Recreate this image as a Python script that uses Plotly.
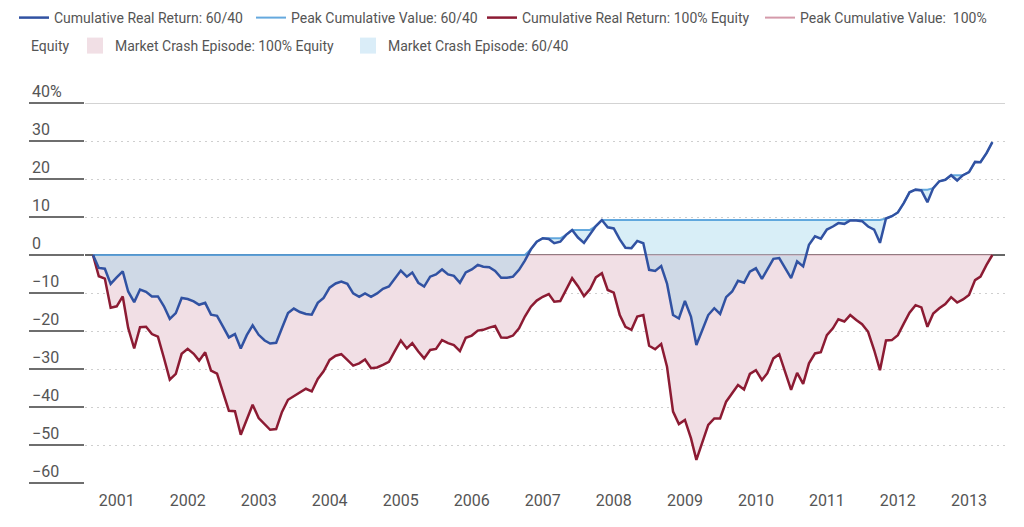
import numpy as np
import pandas as pd
import plotly.graph_objects as go

# ---------------- data ----------------
start_month = "2000-09-01"          # first monthly observation
n_months = 153                      # Sep 2000 .. May 2013

ret_6040 = [
    0.0, -3.4, -3.6, -7.6, -5.9, -4.3, -9.6, -12.4, -9.1, -9.7,
    -10.9, -10.9, -13.5, -16.8, -15.3, -11.3, -11.6, -12.2, -13.1, -12.6,
    -15.7, -16.0, -18.8, -21.7, -20.8, -24.6, -21.1, -18.5, -21.0, -22.5,
    -23.3, -23.1, -19.2, -15.3, -14.1, -15.0, -15.5, -15.7, -12.6, -11.3,
    -8.6, -7.5, -7.0, -7.6, -10.1, -11.0, -10.1, -11.0, -10.1, -8.9,
    -8.3, -6.3, -4.1, -5.7, -4.6, -7.3, -8.3, -5.7, -5.1, -3.8,
    -5.1, -5.5, -7.3, -4.6, -3.8, -2.6, -3.1, -3.2, -4.2, -6.0,
    -6.0, -5.7, -3.9, -1.5, 1.5, 3.5, 4.4, 4.2, 3.1, 3.5,
    5.3, 6.6, 4.6, 3.2, 5.3, 7.6, 9.2, 7.3, 7.0, 4.1,
    1.9, 1.8, 3.7, 3.1, -3.9, -4.2, -2.9, -7.5, -15.8, -16.7,
    -12.1, -16.2, -23.7, -19.7, -15.8, -14.0, -15.5, -11.1, -9.6, -6.8,
    -7.3, -4.4, -3.5, -6.3, -3.9, -1.0, -0.8, -3.4, -6.1, -1.7,
    -3.0, 2.7, 4.9, 4.3, 6.7, 7.5, 8.4, 8.2, 9.1, 9.1,
    8.9, 7.5, 6.7, 3.2, 9.6, 10.2, 11.2, 13.7, 16.5, 17.2,
    17.0, 13.9, 17.6, 19.4, 19.8, 21.0, 19.6, 21.0, 21.8, 24.5,
    24.4, 26.8, 29.7,
]

ret_equity = [
    0.0, -5.6, -6.2, -13.9, -13.5, -10.9, -19.2, -24.6, -19.0, -18.9,
    -20.8, -21.5, -27.1, -32.8, -31.3, -26.0, -24.7, -26.0, -27.8, -25.6,
    -30.4, -31.2, -36.0, -41.0, -41.1, -47.3, -43.3, -39.4, -42.9, -44.6,
    -46.0, -45.8, -41.3, -38.1, -37.2, -36.3, -35.2, -35.9, -32.6, -30.6,
    -27.6, -26.5, -26.1, -27.6, -29.1, -28.5, -27.5, -29.8, -29.6, -28.9,
    -28.1, -25.3, -22.5, -24.6, -23.2, -25.4, -27.2, -25.0, -24.7, -22.4,
    -23.2, -23.7, -25.3, -21.8, -21.2, -19.9, -19.7, -19.1, -18.7, -21.7,
    -21.8, -21.2, -19.3, -16.2, -13.6, -12.0, -11.0, -10.3, -12.3, -12.1,
    -9.0, -6.1, -8.2, -10.8, -9.0, -5.9, -4.8, -9.2, -9.9, -15.8,
    -18.9, -19.7, -16.2, -15.8, -23.9, -24.8, -23.4, -29.4, -41.2, -44.5,
    -43.4, -48.2, -53.9, -49.1, -44.7, -43.0, -43.0, -38.6, -36.4, -34.2,
    -35.4, -31.3, -30.3, -32.9, -31.1, -27.2, -26.1, -31.1, -35.5, -31.0,
    -33.9, -28.5, -25.9, -25.6, -21.1, -19.3, -16.9, -17.5, -15.8, -17.1,
    -18.2, -20.2, -25.0, -30.3, -22.5, -22.4, -21.1, -18.0, -15.2, -13.2,
    -13.8, -18.9, -15.4, -14.0, -12.9, -11.1, -12.5, -11.7, -10.5, -6.6,
    -5.7, -2.6, 0.0,
]

year_ticks = [str(y) for y in range(2001, 2014)]
y_ticks = [40, 30, 20, 10, 0, -10, -20, -30, -40, -50, -60]
y_tick_text = ["40%", "30", "20", "10", "0", "\u221210", "\u221220",
               "\u221230", "\u221240", "\u221250", "\u221260"]

# ---------------- derived ----------------
months = pd.date_range(start_month, periods=n_months, freq="MS")
peak_6040 = np.maximum.accumulate(np.array(ret_6040))
peak_equity = np.maximum.accumulate(np.array(ret_equity))

# ---------------- style ----------------
FONT = "Roboto, sans-serif"
FS = 16          # axis labels
LFS = 14         # legend
TXT = "#555555"
C_BLUE = "#3152A2"
C_BLUE_PEAK = "rgba(74,154,216,0.85)"
C_RED = "#8C1B33"
C_RED_PEAK = "rgba(212,154,170,0.4)"
C_RED_PEAK_LEG = "#D49AAA"
F_PINK = "rgb(241,223,229)"
F_BLUE = "rgba(147,207,232,0.36)"

# the page body has an 8px margin, so the figure is 8px smaller each way
OFF = 8
W, H = 1024 - OFF, 527 - OFF
L, R, T, B = 85 - OFF, 19, 103 - OFF, 44
pw, ph = W - L - R, H - T - B

fig = go.Figure()

# crash episode fills (100% equity first, then 60/40 on top)
fig.add_trace(go.Scatter(x=months, y=peak_equity, mode="lines",
                         line=dict(width=0, color=F_PINK), showlegend=False,
                         hoverinfo="skip"))
fig.add_trace(go.Scatter(x=months, y=ret_equity, mode="lines", fill="tonexty",
                         fillcolor=F_PINK, line=dict(width=0, color=F_PINK),
                         legendgroup="crash_eq", showlegend=False, hoverinfo="skip"))
fig.add_trace(go.Scatter(x=months, y=peak_6040, mode="lines",
                         line=dict(width=0, color=F_BLUE), showlegend=False,
                         hoverinfo="skip"))
fig.add_trace(go.Scatter(x=months, y=ret_6040, mode="lines", fill="tonexty",
                         fillcolor=F_BLUE, line=dict(width=0, color=F_BLUE),
                         legendgroup="crash_6040", showlegend=False, hoverinfo="skip"))

# legend swatches for the fills (row 2)
fig.add_trace(go.Scatter(x=[None], y=[None], mode="markers",
                         marker=dict(symbol="square", size=16, color=F_PINK),
                         name="Market Crash Episode: 100% Equity",
                         legendgroup="crash_eq", legend="legend5"))
fig.add_trace(go.Scatter(x=[None], y=[None], mode="markers",
                         marker=dict(symbol="square", size=16, color="rgb(218,237,248)"),
                         name="Market Crash Episode: 60/40",
                         legendgroup="crash_6040", legend="legend6"))

# zero-level peak line for 100% equity
fig.add_trace(go.Scatter(x=months, y=peak_equity, mode="lines",
                         line=dict(width=2, color=C_RED_PEAK), showlegend=False,
                         legendgroup="peak_eq", hoverinfo="skip"))
fig.add_trace(go.Scatter(x=[None], y=[None], mode="lines",
                         line=dict(width=2, color=C_RED_PEAK_LEG),
                         name="Peak Cumulative Value:  100%",
                         legendgroup="peak_eq", legend="legend4"))
fig.add_trace(go.Scatter(x=months, y=peak_6040, mode="lines",
                         line=dict(width=2, color=C_BLUE_PEAK),
                         name="Peak Cumulative Value: 60/40", legend="legend2"))
# cumulative return lines
fig.add_trace(go.Scatter(x=months, y=ret_equity, mode="lines",
                         line=dict(width=2.5, color=C_RED),
                         name="Cumulative Real Return: 100% Equity", legend="legend3"))
fig.add_trace(go.Scatter(x=months, y=ret_6040, mode="lines",
                         line=dict(width=2.5, color=C_BLUE),
                         name="Cumulative Real Return: 60/40", legend="legend"))

# legends: one entry each, placed where the text starts in the reference (page px)
leg_font = dict(family=FONT, size=LFS, color=TXT)
row1_center, row2_center = 18 - OFF, 46 - OFF
row1_text_x = [54, 291, 522, 800]
row2_text_x = [115, 388]
legend_cfg = {}
for nm, tx in zip(["legend", "legend2", "legend3", "legend4"], row1_text_x):
    legend_cfg[nm] = dict(orientation="h", xref="container", yref="container",
                          x=(tx - OFF - 40) / W, y=1 - row1_center / H,
                          xanchor="left", yanchor="middle",
                          itemwidth=30, bgcolor="rgba(0,0,0,0)", font=leg_font,
                          traceorder="normal")
for nm, tx in zip(["legend5", "legend6"], row2_text_x):
    legend_cfg[nm] = dict(orientation="h", xref="container", yref="container",
                          x=(tx - OFF - 40) / W, y=1 - row2_center / H,
                          xanchor="left", yanchor="middle",
                          itemwidth=30, bgcolor="rgba(0,0,0,0)", font=leg_font,
                          traceorder="normal")

annotations = []
for v, t in zip(y_ticks, y_tick_text):
    annotations.append(dict(x=(30 - 85) / pw, xref="paper", y=v, yref="y",
                            text=t, showarrow=False, xanchor="left",
                            yanchor="bottom", yshift=0,
                            font=dict(family=FONT, size=FS, color=TXT)))
annotations.append(dict(x=(29 - 85) / pw, xref="paper",
                        y=(H - B - row2_center) / ph, yref="paper",
                        text="Equity", showarrow=False,
                        xanchor="left", yanchor="middle",
                        font=dict(family=FONT, size=LFS, color=TXT)))

fig.update_layout(
    width=W, height=H,
    margin=dict(l=L, r=R, t=T, b=B, autoexpand=False),
    paper_bgcolor="white", plot_bgcolor="white",
    font=dict(family=FONT, size=FS, color=TXT),
    xaxis=dict(type="date",
               range=["2000-07-22", "2013-07-05"],
               tickvals=[f"{y}-01-01" for y in year_ticks],
               ticktext=year_ticks,
               showgrid=False, zeroline=False, showline=False,
               ticks="outside", ticklen=3, tickcolor="rgba(0,0,0,0)",
               tickfont=dict(family=FONT, size=FS, color=TXT)),
    yaxis=dict(range=[-60, 40], tickvals=y_ticks, showticklabels=False,
               ticks="outside", ticklen=55, tickwidth=2, tickcolor="#6e6e6e",
               showgrid=True, gridcolor="#cfcfcf", gridwidth=1.2,
               griddash="2px,4px",
               zeroline=True, zerolinecolor="#666666", zerolinewidth=2,
               showline=False),
    annotations=annotations,
    shapes=[dict(type="line", xref="paper", yref="y", x0=0, x1=1, y0=40, y1=40,
                 line=dict(color="#c4c4c4", width=1.5), layer="below")],
    hovermode=False,
    **legend_cfg,
)

fig.write_html("out.html")
